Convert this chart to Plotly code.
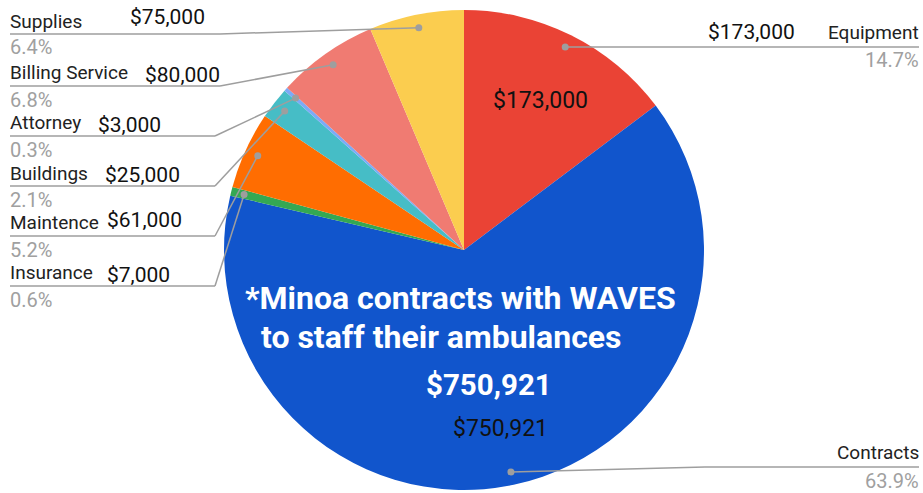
import math
import plotly.graph_objects as go

# ---------------- data ----------------
labels = ["Equipment", "Contracts", "Insurance", "Maintence", "Buildings",
          "Attorney", "Billing Service", "Supplies"]
values = [173000, 750921, 7000, 61000, 25000, 3000, 80000, 75000]
colors = ["#EA4335", "#1155CC", "#34A853", "#FF6D01", "#46BDC6",
          "#7BAAF7", "#F07B72", "#FBCD4F"]
note_lines = ["*Minoa contracts with WAVES", "to staff their ambulances"]

W, H = 923, 493
CX, CY, R = 464, 250, 240  # pie center / radius in pixels

total = sum(values)
pcts = [v / total * 100 for v in values]


def money(v):
    return "${:,.0f}".format(v)


def px(x):
    return x / W


def py(y):
    return 1 - y / H


fig = go.Figure(go.Pie(
    labels=labels, values=values, sort=False, direction="clockwise",
    rotation=0, marker=dict(colors=colors, line=dict(width=0)),
    textinfo="none", hoverinfo="skip", showlegend=False,
    domain=dict(x=[px(CX - R), px(CX + R)], y=[py(CY + R), py(CY - R)]),
))

# slice mid angles -> dot positions
mids = []
cum = 0
for v in values:
    mids.append((cum + v / 2) / total * 2 * math.pi)
    cum += v
dots = [(CX + 0.945 * R * math.sin(a), CY - 0.945 * R * math.cos(a)) for a in mids]

# label layout (pixel positions), left side
left_layout = {
    "Supplies":        dict(ly=22, vx=128, vy=17, py=47, uy=34, ux=220),
    "Billing Service": dict(ly=72, vx=143, vy=75, py=100, uy=86, ux=220),
    "Attorney":        dict(ly=123, vx=96, vy=125, py=150, uy=136, ux=215),
    "Buildings":       dict(ly=173, vx=103, vy=175, py=200, uy=186, ux=215),
    "Maintence":       dict(ly=222, vx=105, vy=220, py=250, uy=236, ux=215),
    "Insurance":       dict(ly=272, vx=105, vy=275, py=300, uy=286, ux=215),
}
right_layout = {
    "Equipment": dict(ly=33, vx=797, vy=32, py=60, uy=47, bx=None),
    "Contracts": dict(ly=452, vx=None, vy=None, py=481, uy=467, bx=705),
}

LINE = "#9E9E9E"
LBL = "#222222"
PCT = "#A0A0A0"
LS = 19      # label font size
PS = 20      # percent font size
VS = 21      # value font size
TX = 8       # left text x
shapes = []
ann = []


def text(x, y, s, size, color, xanchor="left", bold=False, family="Roboto"):
    ann.append(dict(x=px(x), y=py(y), xref="paper", yref="paper", text=s,
                    showarrow=False, xanchor=xanchor, yanchor="middle",
                    font=dict(size=size, color=color, family=family,
                              weight="bold" if bold else "normal")))


def line(x0, y0, x1, y1):
    shapes.append(dict(type="line", xref="paper", yref="paper",
                       x0=px(x0), y0=py(y0), x1=px(x1), y1=py(y1),
                       line=dict(color=LINE, width=1.5)))


for i, lab in enumerate(labels):
    dx, dy = dots[i]
    pct_s = "{:.1f}%".format(pcts[i])
    if lab in left_layout:
        L = left_layout[lab]
        text(TX, L["ly"], lab, LS, LBL)
        text(L["vx"], L["vy"], money(values[i]), VS, "#111111")
        text(TX, L["py"], pct_s, PS, PCT)
        line(10, L["uy"], L["ux"], L["uy"])
        line(L["ux"], L["uy"], dx, dy)
    else:
        L = right_layout[lab]
        text(921, L["ly"], lab, LS, LBL, xanchor="right")
        if L["vx"] is not None:
            text(L["vx"], L["vy"], money(values[i]), VS, "#111111", xanchor="right")
        text(921, L["py"], pct_s, PS, PCT, xanchor="right")
        if L["bx"] is None:
            line(dx, dy, 919, L["uy"])
        else:
            line(dx, dy, L["bx"], L["uy"])
            line(L["bx"], L["uy"], 919, L["uy"])
    shapes.append(dict(type="circle", xref="paper", yref="paper",
                       x0=px(dx - 3.5), x1=px(dx + 3.5),
                       y0=py(dy + 3.5), y1=py(dy - 3.5),
                       fillcolor=LINE, line=dict(width=0)))

# inside slice value labels
text(540, 100, money(values[0]), 23, "#111111", xanchor="center")
text(500, 428, money(values[1]), 23, "#111111", xanchor="center")

# white overlay note
text(243, 298, note_lines[0], 32, "#FFFFFF", bold=True)
text(259, 337, note_lines[1], 32, "#FFFFFF", bold=True)
text(489, 385, money(values[1]), 29.5, "#FFFFFF", xanchor="center", bold=True)

fig.update_layout(width=W, height=H, margin=dict(l=0, r=0, t=0, b=0),
                  paper_bgcolor="white", plot_bgcolor="white",
                  shapes=shapes, annotations=ann,
                  font=dict(family="Roboto"))
fig.write_html("out.html", config={"displayModeBar": False},
               post_script="document.body.style.margin='0';"
                           "document.body.style.padding='0';"
                           "document.body.style.overflow='hidden';")
